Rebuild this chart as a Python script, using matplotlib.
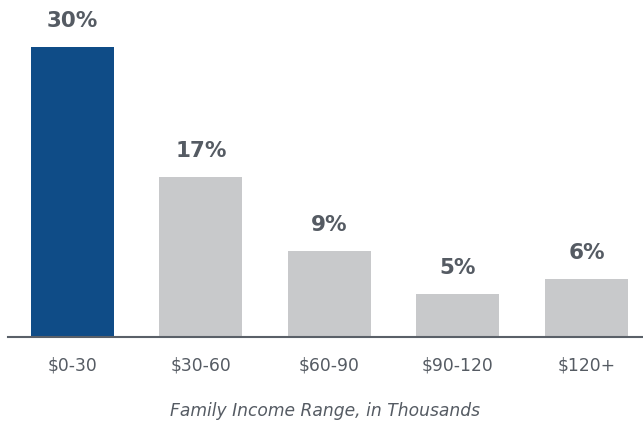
import numpy as np
import matplotlib.pyplot as plt

plt.rcParams['font.family'] = ['DejaVu Sans']

categories = ['$0-30', '$30-60', '$60-90', '$90-120', '$120+']
values = [30, 16.55, 8.9, 4.45, 6.0]
labels = ['30%', '17%', '9%', '5%', '6%']

navy = '#0f4c87'
grey = '#c8c9cb'
text_col = '#555b63'

fig = plt.figure(figsize=(6.43, 4.26), dpi=100)
ax = fig.add_axes([8 / 643, 89 / 426, 635 / 643, 337 / 426])

x = np.arange(len(categories))
colors = [navy] + [grey] * (len(categories) - 1)
ax.bar(x, values, width=0.646, color=colors)

for xi, v, lab in zip(x, values, labels):
    ax.annotate(lab, (xi, v), xytext=(0, 18.4), textcoords='offset points',
                ha='center', va='center', fontsize=15.5, fontweight='bold',
                color=text_col)

ax.set_xlim(-0.5, 4.44)
ax.set_ylim(0, 30 * 337 / 290)
ax.set_xticks(x)
ax.set_xticklabels(categories, fontsize=12.3, color=text_col)
ax.tick_params(axis='x', length=0, pad=14)
ax.set_yticks([])
for s in ['top', 'left', 'right']:
    ax.spines[s].set_visible(False)
ax.spines['bottom'].set_color('#5a6068')
ax.spines['bottom'].set_linewidth(1.5)

ax.set_xlabel('Family Income Range, in Thousands', fontsize=12.3, style='italic',
              color=text_col, labelpad=20)

fig.savefig('out.png', dpi=100)
